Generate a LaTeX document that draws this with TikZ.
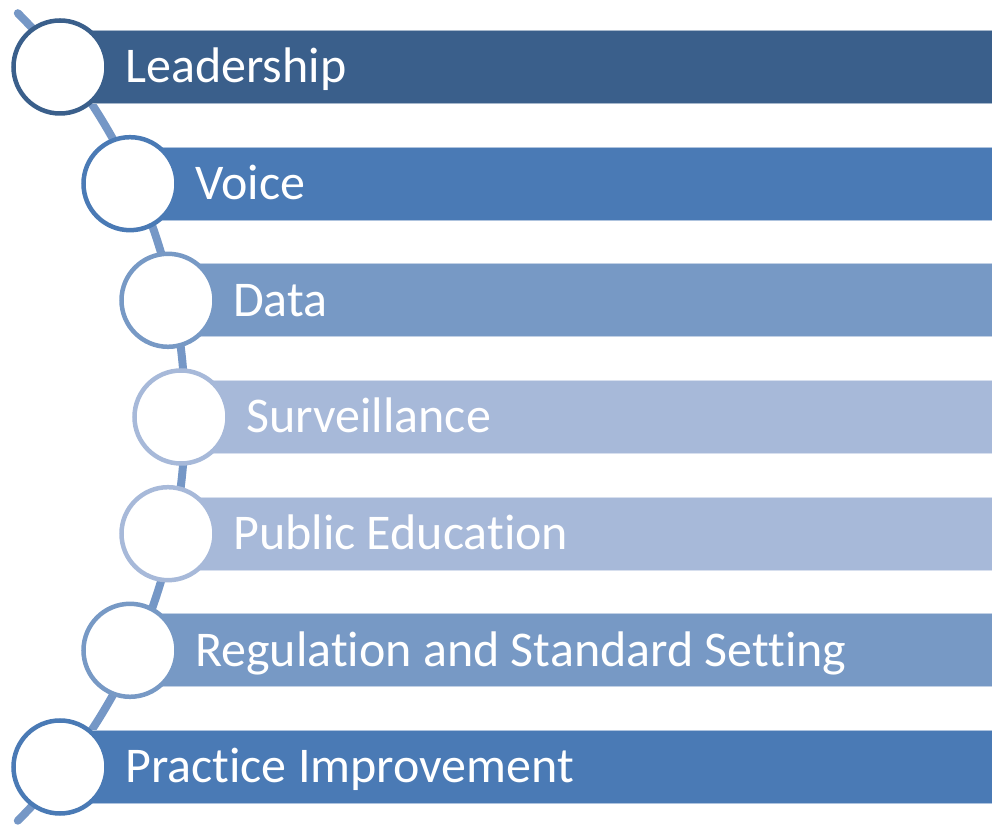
\documentclass[tikz,border=0pt]{standalone}
\usepackage{fontspec}
\setmainfont{Carlito}[RawFeature={-liga;-clig}]
\definecolor{cdark}{HTML}{3A5F8B}
\definecolor{cmid}{HTML}{4A7AB5}
\definecolor{clight}{HTML}{7799C5}
\definecolor{cpale}{HTML}{A7B9D9}
\definecolor{carc}{HTML}{7597C6}
\tikzset{
  circ/.style={circle, fill=white, line width=4.5bp, minimum size=93bp, inner sep=0pt},
  barbox/.style={rectangle, anchor=west, minimum height=73bp, inner sep=0pt, line width=0.8bp},
  lbl/.style={anchor=base west, inner sep=0pt, text=white, font=\fontsize{50bp}{60bp}\selectfont},
  arcline/.style={draw=carc, line width=8bp, line cap=round}
}
\begin{document}
\begin{tikzpicture}[x=1bp, y=1bp]
\useasboundingbox (0,0) rectangle (992,825);
% connector arc
\coordinate (arctop) at (17.8,811.8);
\draw[arcline] (arctop) arc[start angle=45, end angle=-45, radius=571];
% bars
\node[barbox, fill=cdark, draw=cdark!45!white, minimum width=932bp] (b1) at (60,758) {};
\node[barbox, fill=cmid, draw=cmid!45!white, minimum width=862bp] (b2) at (130,641.3) {};
\node[barbox, fill=clight, draw=clight!45!white, minimum width=824bp] (b3) at (168,524.7) {};
\node[barbox, fill=cpale, draw=cpale!45!white, minimum width=811bp] (b4) at (181,408) {};
\node[barbox, fill=cpale, draw=cpale!45!white, minimum width=824bp] (b5) at (168,291.3) {};
\node[barbox, fill=clight, draw=clight!45!white, minimum width=862bp] (b6) at (130,174.7) {};
\node[barbox, fill=cmid, draw=cmid!45!white, minimum width=932bp] (b7) at (60,58) {};
% circles
\node[circ, draw=cdark] (c1) at (60,758) {};
\node[circ, draw=cmid] (c2) at (130,641.3) {};
\node[circ, draw=clight] (c3) at (168,524.7) {};
\node[circ, draw=cpale] (c4) at (181,408) {};
\node[circ, draw=cpale] (c5) at (168,291.3) {};
\node[circ, draw=clight] (c6) at (130,174.7) {};
\node[circ, draw=cmid] (c7) at (60,58) {};
% labels
\node[lbl] (t1) at (125,742) {Leadership};
\node[lbl] (t2) at (195,625.3) {Voice};
\node[lbl] (t3) at (233,508.7) {Data};
\node[lbl] (t4) at (246,392) {Surveillance};
\node[lbl] (t5) at (233,275.3) {Public Education};
\node[lbl] (t6) at (195,158.7) {Regulation and Standard Setting};
\node[lbl] (t7) at (125,42) {Practice Improvement};
\end{tikzpicture}
\end{document}
